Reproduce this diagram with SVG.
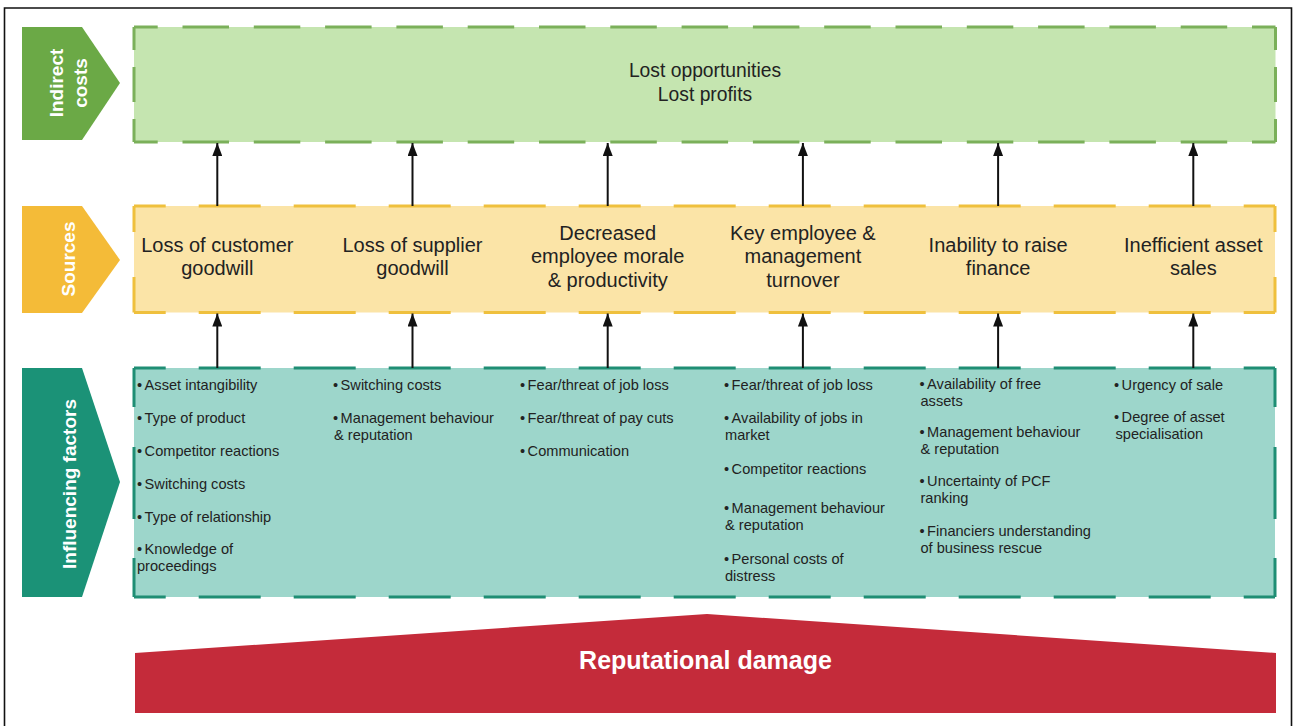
<svg xmlns="http://www.w3.org/2000/svg" width="1293" height="726" viewBox="0 0 1293 726">
  <defs>
    <marker id="arrowhead" viewBox="0 0 13 10" refX="13" refY="5" markerWidth="13" markerHeight="10" markerUnits="userSpaceOnUse" orient="auto">
      <path d="M0,0 L13,5 L0,10 z" fill="#111"/>
    </marker>
    <style>
      .band-label { font-family: "Liberation Sans", Arial, sans-serif; font-weight: bold; font-size: 19px; fill: #ffffff; text-anchor: middle; }
      .title { font-family: "Liberation Sans", Arial, sans-serif; font-size: 19.3px; fill: #222; text-anchor: middle; }
      .source { font-family: "Liberation Sans", Arial, sans-serif; font-size: 20px; fill: #222; text-anchor: middle; }
      .factor { font-family: "Liberation Sans", Arial, sans-serif; font-size: 14.6px; fill: #222; }
      .edge { fill: none; stroke-width: 3; }
      .g-edge { stroke: #7bb05a; }
      .y-edge { stroke: #efc03d; }
      .t-edge { stroke: #1f8e74; }
      .h-green { stroke-dasharray: 46.5 24.8; stroke-dashoffset: 22.8; }
      .h-wide { stroke-dasharray: 62 33; stroke-dashoffset: 30.3; }
      .v-green { stroke-dasharray: 23 17 35 17 23; }
      .v-yellow { stroke-dasharray: 26 45 36; }
      .v-teal { stroke-dasharray: 39 40 72 39 39; }
      .link { stroke: #111; stroke-width: 2; fill: none; marker-end: url(#arrowhead); }
    </style>
  </defs>

  <rect width="1293" height="726" fill="#ffffff"/>
  <!-- frame -->
  <path d="M4.5,730 V8 H1291.5 V730" fill="none" stroke="#111" stroke-width="1.6"/>

  <!-- band tags -->
  <g id="tag-indirect">
    <polygon points="22,27 82,27 120,83 82,140 22,140" fill="#6ba946"/>
    <text class="band-label" transform="translate(63,83) rotate(-90)">Indirect<tspan x="0" dy="24">costs</tspan></text>
  </g>
  <g id="tag-sources">
    <polygon points="22,206 82,206 120,260 82,313 22,313" fill="#f4bb38"/>
    <text class="band-label" transform="translate(75,259) rotate(-90)">Sources</text>
  </g>
  <g id="tag-factors">
    <polygon points="22,368 82,368 120,482 82,597 22,597" fill="#1b9277"/>
    <text class="band-label" transform="translate(76,484) rotate(-90)">Influencing factors</text>
  </g>

  <!-- indirect costs band -->
  <g id="indirect-costs">
    <rect x="134" y="27" width="1141.5" height="115" fill="#c5e5b0"/>
    <line class="edge g-edge h-green" x1="134" y1="27" x2="1275.5" y2="27"/>
    <line class="edge g-edge h-green" x1="134" y1="142" x2="1275.5" y2="142"/>
    <line class="edge g-edge v-green" x1="134" y1="27" x2="134" y2="142"/>
    <line class="edge g-edge v-green" x1="1275.5" y1="27" x2="1275.5" y2="142"/>
    <text class="title" x="705" y="77">Lost opportunities</text>
    <text class="title" x="705" y="101">Lost profits</text>
  </g>

  <!-- sources band -->
  <g id="sources">
    <rect x="134" y="206" width="1141" height="106.5" fill="#fbe4a7"/>
    <line class="edge y-edge h-wide" x1="134" y1="206" x2="1275" y2="206"/>
    <line class="edge y-edge h-wide" x1="134" y1="312.5" x2="1275" y2="312.5"/>
    <line class="edge y-edge v-yellow" x1="134" y1="206" x2="134" y2="312.5"/>
    <line class="edge y-edge v-yellow" x1="1275" y1="206" x2="1275" y2="312.5"/>
  </g>
  <g id="source-customer">
    <text class="source" x="217.3" y="251.5">Loss of customer<tspan x="217.3" dy="23.5">goodwill</tspan></text>
  </g>
  <g id="source-supplier">
    <text class="source" x="412.5" y="251.5">Loss of supplier<tspan x="412.5" dy="23.5">goodwill</tspan></text>
  </g>
  <g id="source-morale">
    <text class="source" x="607.7" y="239.5">Decreased<tspan x="607.7" dy="23.8">employee morale</tspan><tspan x="607.7" dy="23.8">&amp; productivity</tspan></text>
  </g>
  <g id="source-turnover">
    <text class="source" x="802.9" y="239.5">Key employee &amp;<tspan x="802.9" dy="23.8">management</tspan><tspan x="802.9" dy="23.8">turnover</tspan></text>
  </g>
  <g id="source-finance">
    <text class="source" x="998.1" y="251.5">Inability to raise<tspan x="998.1" dy="23.5">finance</tspan></text>
  </g>
  <g id="source-assets">
    <text class="source" x="1193.3" y="251.5">Inefficient asset<tspan x="1193.3" dy="23.5">sales</tspan></text>
  </g>

  <!-- influencing factors band -->
  <g id="factors">
    <rect x="134" y="368" width="1141" height="229" fill="#9dd6cb"/>
    <line class="edge t-edge h-wide" x1="134" y1="368" x2="1275" y2="368"/>
    <line class="edge t-edge h-wide" x1="134" y1="597" x2="1275" y2="597"/>
    <line class="edge t-edge v-teal" x1="134" y1="368" x2="134" y2="597"/>
    <line class="edge t-edge v-teal" x1="1275" y1="368" x2="1275" y2="597"/>
  </g>
  <g id="factors-customer" class="factor">
    <text x="137" y="389.5">•<tspan dx="2.5">Asset intangibility</tspan></text>
    <text x="137" y="422.5">•<tspan dx="2.5">Type of product</tspan></text>
    <text x="137" y="455.5">•<tspan dx="2.5">Competitor reactions</tspan></text>
    <text x="137" y="488.5">•<tspan dx="2.5">Switching costs</tspan></text>
    <text x="137" y="521.5">•<tspan dx="2.5">Type of relationship</tspan></text>
    <text x="137" y="554">•<tspan dx="2.5">Knowledge of</tspan></text>
    <text x="137" y="571">proceedings</text>
  </g>
  <g id="factors-supplier" class="factor">
    <text x="333" y="389.5">•<tspan dx="2.5">Switching costs</tspan></text>
    <text x="333" y="422.5">•<tspan dx="2.5">Management behaviour</tspan></text>
    <text x="334" y="439.5">&amp; reputation</text>
  </g>
  <g id="factors-morale" class="factor">
    <text x="520" y="389.5">•<tspan dx="2.5">Fear/threat of job loss</tspan></text>
    <text x="520" y="422.5">•<tspan dx="2.5">Fear/threat of pay cuts</tspan></text>
    <text x="520" y="455.5">•<tspan dx="2.5">Communication</tspan></text>
  </g>
  <g id="factors-turnover" class="factor">
    <text x="724" y="389.5">•<tspan dx="2.5">Fear/threat of job loss</tspan></text>
    <text x="724" y="423">•<tspan dx="2.5">Availability of jobs in</tspan></text>
    <text x="725" y="440">market</text>
    <text x="724" y="474">•<tspan dx="2.5">Competitor reactions</tspan></text>
    <text x="724" y="512.5">•<tspan dx="2.5">Management behaviour</tspan></text>
    <text x="725" y="529.5">&amp; reputation</text>
    <text x="724" y="564">•<tspan dx="2.5">Personal costs of</tspan></text>
    <text x="725" y="581">distress</text>
  </g>
  <g id="factors-finance" class="factor">
    <text x="919.5" y="389">•<tspan dx="2.5">Availability of free</tspan></text>
    <text x="920.5" y="405.5">assets</text>
    <text x="919.5" y="437">•<tspan dx="2.5">Management behaviour</tspan></text>
    <text x="920.5" y="453.5">&amp; reputation</text>
    <text x="919.5" y="486">•<tspan dx="2.5">Uncertainty of PCF</tspan></text>
    <text x="920.5" y="502.5">ranking</text>
    <text x="919.5" y="536">•<tspan dx="2.5">Financiers understanding</tspan></text>
    <text x="920.5" y="552.5">of business rescue</text>
  </g>
  <g id="factors-assets" class="factor">
    <text x="1114" y="389.5">•<tspan dx="2.5">Urgency of sale</tspan></text>
    <text x="1114" y="422">•<tspan dx="2.5">Degree of asset</tspan></text>
    <text x="1115.5" y="438.5">specialisation</text>
  </g>

  <!-- reputational damage base -->
  <g id="reputational-damage">
    <polygon points="135,653 707,614 1276,653 1276,713 135,713" fill="#c42b3a"/>
    <text x="705.5" y="669" font-family="'Liberation Sans', Arial, sans-serif" font-size="25" font-weight="bold" fill="#ffffff" text-anchor="middle">Reputational damage</text>
  </g>

  <!-- connectors -->
  <g id="connectors">
    <line class="link" x1="217.3" y1="206" x2="217.3" y2="143"/>
    <line class="link" x1="412.5" y1="206" x2="412.5" y2="143"/>
    <line class="link" x1="607.7" y1="206" x2="607.7" y2="143"/>
    <line class="link" x1="802.9" y1="206" x2="802.9" y2="143"/>
    <line class="link" x1="998.1" y1="206" x2="998.1" y2="143"/>
    <line class="link" x1="1193.3" y1="206" x2="1193.3" y2="143"/>
    <line class="link" x1="217.3" y1="368" x2="217.3" y2="313.5"/>
    <line class="link" x1="412.5" y1="368" x2="412.5" y2="313.5"/>
    <line class="link" x1="607.7" y1="368" x2="607.7" y2="313.5"/>
    <line class="link" x1="802.9" y1="368" x2="802.9" y2="313.5"/>
    <line class="link" x1="998.1" y1="368" x2="998.1" y2="313.5"/>
    <line class="link" x1="1193.3" y1="368" x2="1193.3" y2="313.5"/>
  </g>
</svg>
